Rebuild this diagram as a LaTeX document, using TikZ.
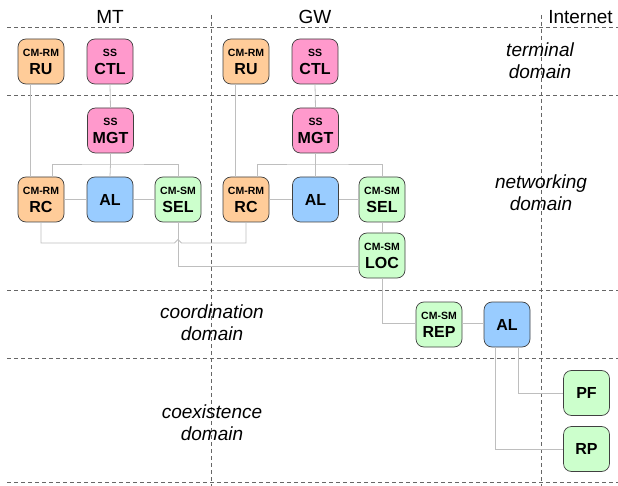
\documentclass[tikz,border=0pt]{standalone}
\usepackage{fontspec}
\setmainfont{Liberation Sans}
\begin{document}
\begin{tikzpicture}[x=1pt,y=-1pt,
  box/.style={draw=black!75,line width=0.7pt,rounded corners=8pt,minimum width=46pt,minimum height=45pt,inner sep=0pt,align=center,font=\bfseries\fontsize{16}{18}\selectfont},
  rm/.style={box,fill=orange!40!white,fill={rgb,255:red,255;green,204;blue,153}},
  ss/.style={box,fill={rgb,255:red,255;green,153;blue,204}},
  al/.style={box,fill={rgb,255:red,153;green,204;blue,255}},
  sm/.style={box,fill={rgb,255:red,204;green,255;blue,204}},
  conn/.style={draw={rgb,255:red,190;green,190;blue,190},line width=0.8pt},
  sep/.style={draw=black!60,line width=0.7pt,dash pattern=on 4pt off 3pt},
  head/.style={font=\fontsize{19}{22}\selectfont},
  dom/.style={font=\itshape\fontsize{19}{22}\selectfont,align=center}]
\newcommand{\sm}[1]{{\fontsize{10.5}{11}\selectfont #1}}
\useasboundingbox (0,0) rectangle (618,486);
% separators
\foreach \yy in {27,95.5,290,358,482.5} \draw[sep] (7,\yy) -- (618,\yy);
\foreach \xx in {211.5,541.5} \draw[sep] (\xx,15) -- (\xx,486);
% headings
\node[head] (hMT) at (110,17) {MT};
\node[head] (hGW) at (315,17) {GW};
\node[head] (hIN) at (580.5,17) {Internet};
% domain labels
\node[dom] (dTer) at (540,61) {terminal\\domain};
\node[dom] (dNet) at (541,193) {networking\\domain};
\node[dom] (dCoo) at (212,323) {coordination\\domain};
\node[dom] (dCoe) at (212,423) {coexistence\\domain};
% MT nodes
\node[rm] (mtRU) at (41,61.5) {\sm{CM-RM}\\RU};
\node[ss] (mtCTL) at (110,61.5) {\sm{SS}\\CTL};
\node[ss] (mtMGT) at (110.5,130.5) {\sm{SS}\\MGT};
\node[rm] (mtRC) at (41,199.5) {\sm{CM-RM}\\RC};
\node[al] (mtAL) at (110,199.5) {AL};
\node[sm] (mtSEL) at (178,199.5) {\sm{CM-SM}\\SEL};
% GW nodes
\node[rm] (gwRU) at (246,61.5) {\sm{CM-RM}\\RU};
\node[ss] (gwCTL) at (315,61.5) {\sm{SS}\\CTL};
\node[ss] (gwMGT) at (315.5,130.5) {\sm{SS}\\MGT};
\node[rm] (gwRC) at (246,199.5) {\sm{CM-RM}\\RC};
\node[al] (gwAL) at (315.5,199.5) {AL};
\node[sm] (gwSEL) at (382,199.5) {\sm{CM-SM}\\SEL};
\node[sm] (gwLOC) at (382,255.5) {\sm{CM-SM}\\LOC};
% coordination / internet
\node[sm] (REP) at (439,324.5) {\sm{CM-SM}\\REP};
\node[al] (inAL) at (507,324.5) {AL};
\node[sm] (PF) at (586.5,393) {PF};
\node[sm] (RP) at (586.5,449) {RP};
% coordinates
\coordinate (mtJ) at (110.5,164);
\coordinate (gwJ) at (315.5,164);
\coordinate (hopL) at (174.5,243);
\coordinate (hopT) at (178,239.5);
\coordinate (hopR) at (181.5,243);
% MT connectors
\draw[conn] ([xshift=-11pt]mtRU.south) -- ([xshift=-11pt]mtRC.north);
\draw[conn] (mtCTL.south) -- (mtMGT.north);
\draw[conn] (mtMGT.south) -- (mtJ) -- (mtAL.north);
\draw[conn] ([xshift=11pt]mtRC.north) |- (mtJ) -| (mtSEL.north);
\draw[conn] (mtRC.east) -- (mtAL.west);
\draw[conn] (mtAL.east) -- (mtSEL.west);
\draw[conn] (mtRC.south) |- (hopL) -- (hopT) -- (hopR) -| (gwRC.south);
\draw[conn] (mtSEL.south) |- ([yshift=-11pt]gwLOC.west);
% GW connectors
\draw[conn] ([xshift=-11pt]gwRU.south) -- ([xshift=-11pt]gwRC.north);
\draw[conn] (gwCTL.south) -- (gwMGT.north);
\draw[conn] (gwMGT.south) -- (gwJ) -- (gwAL.north);
\draw[conn] ([xshift=11pt]gwRC.north) |- (gwJ) -| (gwSEL.north);
\draw[conn] (gwRC.east) -- (gwAL.west);
\draw[conn] (gwAL.east) -- (gwSEL.west);
\draw[conn] (gwSEL.south) -- (gwLOC.north);
\draw[conn] (gwLOC.south) |- ([yshift=1.5pt]REP.west);
\draw[conn] ([yshift=1.5pt]REP.east) -- ([yshift=1.5pt]inAL.west);
\draw[conn] ([xshift=11pt]inAL.south) |- (PF.west);
\draw[conn] ([xshift=-12pt]inAL.south) |- (RP.west);
\end{tikzpicture}
\end{document}
